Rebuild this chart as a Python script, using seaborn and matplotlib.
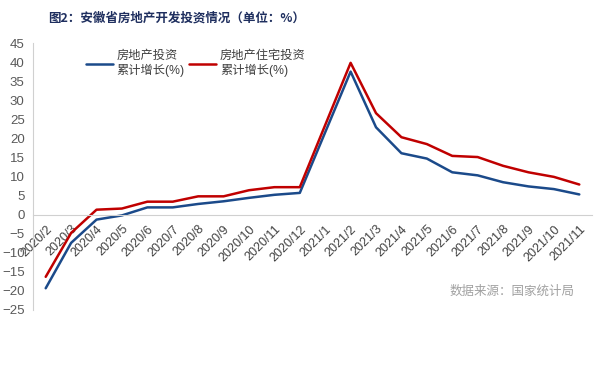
import numpy as np
import pandas as pd
import matplotlib.pyplot as plt
import seaborn as sns

months = ['2020/2', '2020/3', '2020/4', '2020/5', '2020/6', '2020/7', '2020/8',
          '2020/9', '2020/10', '2020/11', '2020/12', '2021/1', '2021/2', '2021/3',
          '2021/4', '2021/5', '2021/6', '2021/7', '2021/8', '2021/9', '2021/10', '2021/11']
invest = [-19.3, -7.4, -1.3, -0.2, 1.9, 1.9, 2.8, 3.5, 4.4, 5.2, 5.7, np.nan, 37.5,
          22.9, 16.1, 14.7, 11.1, 10.3, 8.5, 7.4, 6.7, 5.3]
housing = [-16.3, -4.8, 1.3, 1.6, 3.4, 3.4, 4.8, 4.8, 6.4, 7.2, 7.2, np.nan, 39.8,
           26.6, 20.3, 18.5, 15.4, 15.1, 12.8, 11.1, 9.9, 7.9]
series_names = ['房地产投资\n累计增长(%)', '房地产住宅投资\n累计增长(%)']
colors = ['#1B4A8A', '#C00000']

sns.set_style('white')
plt.rcParams['font.family'] = ['Liberation Sans', 'Noto Sans CJK SC', 'DejaVu Sans']

df = pd.DataFrame({
    'x': list(range(len(months))) * 2,
    'value': invest + housing,
    'series': [series_names[0]] * len(months) + [series_names[1]] * len(months),
}).dropna()

fig = plt.figure(figsize=(6.08, 3.70), dpi=100)
ax = fig.add_axes([33 / 608, 60 / 370, 559 / 608, 267 / 370])

sns.lineplot(data=df, x='x', y='value', hue='series', palette=colors,
             linewidth=1.8, ax=ax, sort=True)

n = len(months)
ax.set_xlim(-0.5, n - 0.5)
ax.set_ylim(-25, 45)
ax.set_yticks(range(-25, 50, 5))
ax.set_xlabel('')
ax.set_ylabel('')

grey = '#D0D0D0'
for s in ['top', 'right']:
    ax.spines[s].set_visible(False)
ax.spines['left'].set_color(grey)
ax.spines['bottom'].set_color(grey)
ax.spines['bottom'].set_position(('data', 0))

ax.set_xticks(np.arange(-0.5, n, 1))
ax.set_xticklabels([])
ax.set_xticks(range(n), minor=True)
ax.set_xticklabels(months, minor=True, rotation=45, ha='right', va='top',
                   rotation_mode='anchor', fontsize=9, color='#404040')
ax.tick_params(axis='x', which='major', direction='out', length=4, color=grey)
ax.tick_params(axis='x', which='minor', length=0, pad=6)
ax.tick_params(axis='y', direction='out', length=4, color=grey,
               labelsize=9.5, labelcolor='#595959', pad=2)

ax.legend(loc='upper left', bbox_to_anchor=(0.075, 1.015), ncol=2, frameon=False,
          fontsize=8.8, handlelength=2.2, columnspacing=0.4, handletextpad=0.3,
          labelspacing=0.2, labelcolor='#404040')

fig.text(48 / 608, 1 - 18 / 370, '图2：安徽省房地产开发投资情况（单位：%）',
         fontsize=9, fontweight='bold', color='#1F2F5F', va='center',
         family=['Noto Sans CJK SC', 'DejaVu Sans'])
fig.text(575 / 608, 1 - 291 / 370, '数据来源：国家统计局', fontsize=9,
         color='#A0A0A0', ha='right', va='center',
         family=['Noto Sans CJK SC', 'DejaVu Sans'])

fig.savefig('out.png', dpi=100)
